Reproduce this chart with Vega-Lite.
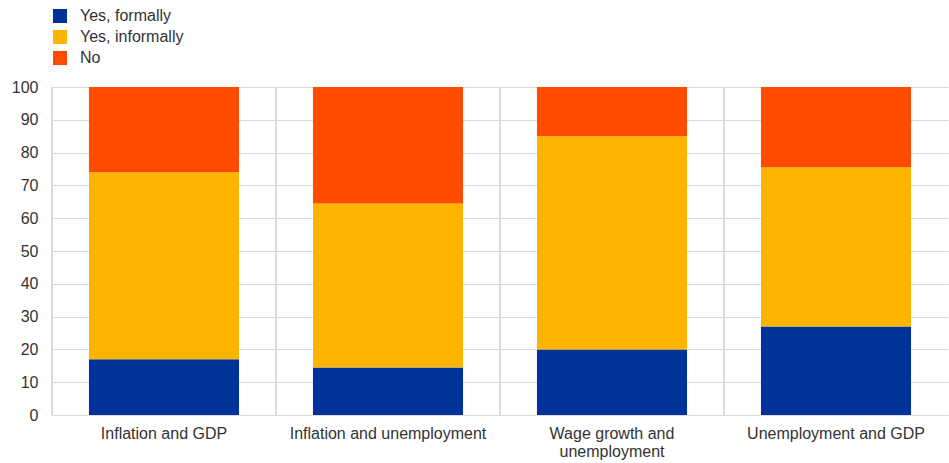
{
  "$schema": "https://vega.github.io/schema/vega-lite/v6.json",
  "width": 896,
  "height": 328,
  "autosize": {"type": "none"},
  "padding": {"left": 52, "top": 87, "right": 1, "bottom": 48},
  "background": "white",
  "config": {
    "view": {"stroke": null},
    "font": "Liberation Sans",
    "axis": {"labelFont": "Liberation Sans", "labelFontSize": 16, "labelColor": "#333333", "gridColor": "#d9d9d9", "domainColor": "#d9d9d9", "ticks": false, "title": null}
  },
  "data": {
    "values": [
      {"category": "Inflation and GDP", "answer": "Yes, formally", "k": 1, "value": 17},
      {"category": "Inflation and GDP", "answer": "Yes, informally", "k": 2, "value": 57},
      {"category": "Inflation and GDP", "answer": "No", "k": 3, "value": 26},
      {"category": "Inflation and unemployment", "answer": "Yes, formally", "k": 1, "value": 14.5},
      {"category": "Inflation and unemployment", "answer": "Yes, informally", "k": 2, "value": 50},
      {"category": "Inflation and unemployment", "answer": "No", "k": 3, "value": 35.5},
      {"category": "Wage growth and unemployment", "answer": "Yes, formally", "k": 1, "value": 20},
      {"category": "Wage growth and unemployment", "answer": "Yes, informally", "k": 2, "value": 65},
      {"category": "Wage growth and unemployment", "answer": "No", "k": 3, "value": 15},
      {"category": "Unemployment and GDP", "answer": "Yes, formally", "k": 1, "value": 27},
      {"category": "Unemployment and GDP", "answer": "Yes, informally", "k": 2, "value": 48.5},
      {"category": "Unemployment and GDP", "answer": "No", "k": 3, "value": 24.5}
    ]
  },
  "encoding": {
    "x": {
      "field": "category",
      "type": "nominal",
      "sort": null,
      "scale": {"paddingInner": 0.33, "paddingOuter": 0.165},
      "axis": {
        "labelAngle": 0,
        "grid": false,
        "domain": true,
        "labelPadding": 10,
        "labelLimit": 0,
        "labelLineHeight": 18,
        "labelExpr": "datum.label == 'Wage growth and unemployment' ? ['Wage growth and', 'unemployment'] : datum.label"
      }
    }
  },
  "layer": [
    {
      "mark": {"type": "rule", "color": "#d9d9d9", "strokeWidth": 1, "xOffset": {"expr": "-bandwidth('x') / 0.67 / 2"}},
      "encoding": {
        "y": {
          "datum": 0,
          "type": "quantitative",
          "scale": {"domain": [0, 100], "nice": false},
          "axis": {"values": [0,10,20,30,40,50,60,70,80,90,100], "labelPadding": 14, "domain": true, "grid": true}
        },
        "y2": {"datum": 100}
      }
    },
    {
      "mark": {"type": "bar"},
      "encoding": {
        "y": {
          "field": "value",
          "type": "quantitative",
          "stack": "zero",
          "scale": {"domain": [0, 100], "nice": false},
          "axis": {"values": [0,10,20,30,40,50,60,70,80,90,100], "labelPadding": 14, "domain": true, "grid": true}
        },
        "color": {
          "field": "answer",
          "type": "nominal",
          "scale": {"domain": ["Yes, formally", "Yes, informally", "No"], "range": ["#003299", "#FFB400", "#FF4B00"]},
          "legend": {
            "title": null,
            "orient": "none",
            "legendX": 0,
            "legendY": -79,
            "symbolType": "square",
            "symbolSize": 196,
            "symbolStrokeWidth": 0,
            "symbolOpacity": 1,
            "labelFontSize": 16,
            "labelFont": "Liberation Sans",
            "labelColor": "#333333",
            "labelOffset": 12,
            "rowPadding": 5
          }
        },
        "order": {"field": "k", "type": "quantitative"}
      }
    }
  ]
}
